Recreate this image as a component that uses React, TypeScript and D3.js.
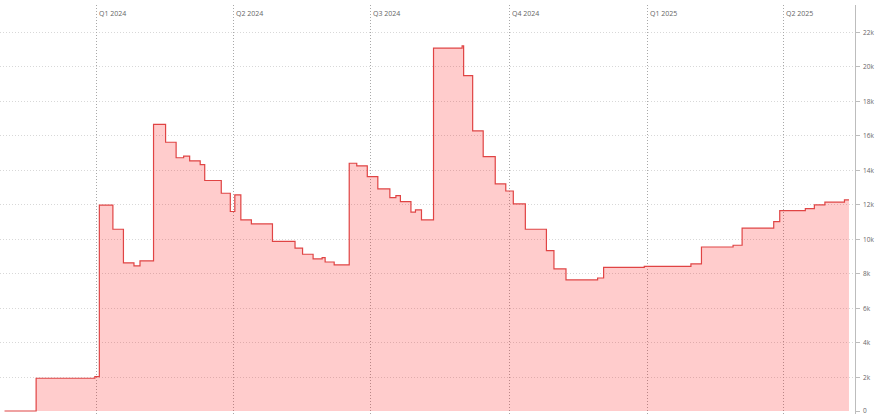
import React, { useEffect, useRef } from 'react';
import * as d3 from 'd3';

// step series
const dates: string[] = [
    "2023-11-01", "2023-11-22", "2023-12-31", "2024-01-03", "2024-01-12", "2024-01-19",
    "2024-01-26", "2024-01-30", "2024-02-08", "2024-02-16", "2024-02-23", "2024-02-28",
    "2024-03-03", "2024-03-10", "2024-03-13", "2024-03-24", "2024-03-30", "2024-04-02",
    "2024-04-06", "2024-04-13", "2024-04-27", "2024-05-12", "2024-05-17", "2024-05-24",
    "2024-05-30", "2024-06-01", "2024-06-07", "2024-06-17", "2024-06-22", "2024-06-29",
    "2024-07-06", "2024-07-14", "2024-07-18", "2024-07-21", "2024-07-28", "2024-07-31",
    "2024-08-04", "2024-08-12", "2024-08-31", "2024-09-01", "2024-09-07", "2024-09-14",
    "2024-09-22", "2024-09-29", "2024-10-04", "2024-10-12", "2024-10-26", "2024-10-31",
    "2024-11-08", "2024-11-29", "2024-12-03", "2024-12-30", "2025-01-30", "2025-02-06",
    "2025-02-27", "2025-03-05", "2025-03-26", "2025-03-30", "2025-04-16", "2025-04-22",
    "2025-04-29", "2025-05-12", "2025-05-15"
];

const values: number[] = [
    0, 1900, 1990, 11950, 10550, 8600,
    8420, 8720, 16640, 15600, 14700, 14800,
    14520, 14300, 13380, 12640, 11580, 12540,
    11090, 10860, 9850, 9450, 9100, 8830,
    8900, 8650, 8480, 14380, 14230, 13600,
    12890, 12390, 12500, 12150, 11540, 11670,
    11090, 21060, 21190, 19470, 16260, 14770,
    13180, 12770, 12020, 10550, 9310, 8250,
    7610, 7720, 8340, 8400, 8540, 9520,
    9620, 10610, 10990, 11630, 11750, 11960,
    12120, 12250, 12250
];

const quarterStarts: string[] = ["2024-01-01", "2024-04-01", "2024-07-01", "2024-10-01", "2025-01-01", "2025-04-01"];
const quarterLabels: string[] = ["Q1 2024", "Q2 2024", "Q3 2024", "Q4 2024", "Q1 2025", "Q2 2025"];

const yTicks: number[] = [0, 2000, 4000, 6000, 8000, 10000, 12000, 14000, 16000, 18000, 20000, 22000];
const xDomain: string[] = ["2023-10-29", "2025-05-19"];

interface Point { date: Date; value: number; }

const App: React.FC = () => {
    const svgRef = useRef<SVGSVGElement>(null);

    useEffect(() => {
        if (!svgRef.current) return;
        d3.select(svgRef.current).selectAll("*").remove();

        const width = 875;
        const height = 414;
        const axisX = 855;
        const top = 5;

        const parse = d3.utcParse("%Y-%m-%d");
        const data: Point[] = dates.map((d, i) => ({ date: parse(d) as Date, value: values[i] }));

        const xScale = d3.scaleUtc()
            .domain(xDomain.map(d => parse(d) as Date))
            .range([0, axisX]);

        const yScale = d3.scaleLinear()
            .domain([0, 22000])
            .range([411, 32]);

        const svg = d3.select(svgRef.current)
            .attr("width", width)
            .attr("height", height);

        // horizontal grid
        svg.append("g")
            .selectAll("line")
            .data(yTicks.filter(t => t > 0))
            .enter().append("line")
            .attr("x1", 0)
            .attr("x2", axisX)
            .attr("y1", d => Math.round(yScale(d)) + 0.5)
            .attr("y2", d => Math.round(yScale(d)) + 0.5)
            .attr("stroke", "#d8d8d8")
            .attr("stroke-width", 1)
            .attr("stroke-dasharray", "1,2");

        // quarter lines + labels
        const q = svg.append("g");
        quarterStarts.forEach((qs, i) => {
            const x = Math.round(xScale(parse(qs) as Date)) + 0.5;
            q.append("line")
                .attr("x1", x).attr("x2", x)
                .attr("y1", top).attr("y2", height)
                .attr("stroke", "#a8a8a8")
                .attr("stroke-width", 1)
                .attr("stroke-dasharray", "1,2");
            q.append("text")
                .attr("x", x + 2.5)
                .attr("y", 16)
                .attr("font-family", "'Open Sans', sans-serif")
                .attr("font-size", 7)
                .attr("fill", "#666")
                .text(quarterLabels[i]);
        });

        // area + line
        const area = d3.area<Point>()
            .x(d => xScale(d.date))
            .y0(yScale(0))
            .y1(d => yScale(d.value))
            .curve(d3.curveStepAfter);

        const line = d3.line<Point>()
            .x(d => xScale(d.date))
            .y(d => yScale(d.value))
            .curve(d3.curveStepAfter);

        svg.append("path")
            .datum(data)
            .attr("fill", "#ff0000")
            .attr("fill-opacity", 0.2)
            .attr("d", area);

        svg.append("path")
            .datum(data)
            .attr("fill", "none")
            .attr("stroke", "#e04444")
            .attr("stroke-width", 1.2)
            .attr("d", line);

        // right axis
        const ax = svg.append("g");
        ax.append("line")
            .attr("x1", axisX + 0.5).attr("x2", axisX + 0.5)
            .attr("y1", top).attr("y2", height)
            .attr("stroke", "#bdbdbd");
        yTicks.forEach(t => {
            const y = Math.round(yScale(t)) + 0.5;
            ax.append("line")
                .attr("x1", axisX).attr("x2", axisX + 5)
                .attr("y1", y).attr("y2", y)
                .attr("stroke", "#bdbdbd");
            ax.append("text")
                .attr("x", axisX + 8)
                .attr("y", Math.min(y + 2.5, height - 1))
                .attr("font-family", "'Open Sans', sans-serif")
                .attr("font-size", 6.5)
                .attr("fill", "#666")
                .text(t === 0 ? "0" : `${t / 1000}k`);
        });
    }, []);

    return (
        <div style={{ position: 'absolute', left: 0, top: 0, background: '#fff' }}>
            <svg ref={svgRef} style={{ display: 'block' }}></svg>
        </div>
    );
};

export default App;
